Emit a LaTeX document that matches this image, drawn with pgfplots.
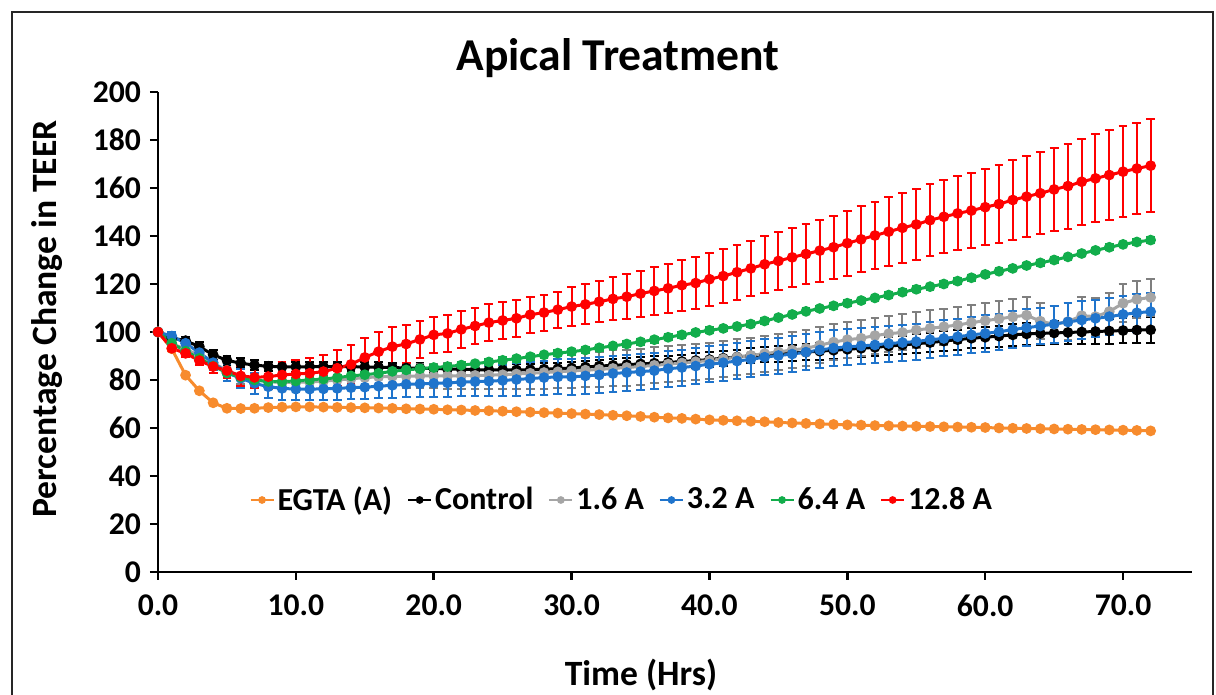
\documentclass[border=0pt]{standalone}
\usepackage{fontspec}
\setmainfont{Carlito}
\usepackage{pgfplots}
\pgfplotsset{compat=1.18}

\definecolor{egta}{HTML}{F78B2D}
\definecolor{gr}{HTML}{A5A5A5}
\definecolor{grerr}{HTML}{7F7F7F}
\definecolor{bl}{HTML}{1F74CC}
\definecolor{gn}{HTML}{12AD4B}
\definecolor{rd}{HTML}{FF0000}

\pgfplotsset{
  ser/.style={color=#1, line width=1.5pt, mark=*, mark size=1.9pt, mark options={solid}},
  errs/.style={error bars/y dir=both,
    error bars/error bar style={line width=1pt, color=#1},
    error bars/error mark options={rotate=90, mark size=2.2pt, line width=1pt, color=#1}},
}

\begin{document}
\begin{tikzpicture}
\useasboundingbox (-79pt,-61.5pt) rectangle (529pt,286pt);
% chart area frame
\draw[line width=1pt, black!85] (-73pt,-80pt) -- (-73pt,280pt) -- (527.5pt,280pt) -- (527.5pt,-80pt);

\begin{axis}[
    scale only axis,
    width=517pt, height=240pt,
    xmin=0, xmax=75, ymin=0, ymax=200,
    xtick={0,10,...,70}, ytick={0,20,...,200},
    axis lines*=left,
    axis line style={line width=1.25pt},
    tick style={line width=1.25pt, black},
    tick align=outside,
    major tick length=4pt,
    tick label style={font=\bfseries\fontsize{15.8}{18}\selectfont},
    /pgf/number format/assume math mode=true,
    xticklabel style={/pgf/number format/.cd, fixed, fixed zerofill, precision=1, /tikz/.cd, yshift=-4pt},
    yticklabel style={xshift=-1pt},
    clip=false,
    legend style={at={(0.449,0.15)}, anchor=center, draw=none, fill=none,
        legend columns=6, font=\bfseries\fontsize{16}{19}\selectfont,
        nodes={inner xsep=1.5pt},
        /tikz/every even column/.append style={column sep=6pt}},
    legend image code/.code={\draw[mark repeat=2, mark phase=2, #1, line width=1pt, mark size=1.4pt]
        plot coordinates {(0pt,0pt) (5.75pt,0pt) (11.5pt,0pt)};},
]

% EGTA (A)
\addplot[ser=egta, errs=egta, error bars/y fixed=0.5] table[row sep=\\] {
x y\\
0 100\\ 1 93\\ 2 82\\ 3 75.5\\ 4 70.5\\ 5 68.2\\ 6 68.1\\ 7 68.2\\ 8 68.5\\ 9 68.7\\
10 68.8\\ 11 68.8\\ 12 68.7\\ 13 68.6\\ 14 68.5\\ 15 68.4\\ 16 68.3\\ 17 68.2\\ 18 68.0\\ 19 67.9\\
20 67.8\\ 21 67.6\\ 22 67.5\\ 23 67.3\\ 24 67.2\\ 25 67.0\\ 26 66.8\\ 27 66.6\\ 28 66.4\\ 29 66.2\\
30 66.0\\ 31 65.8\\ 32 65.6\\ 33 65.3\\ 34 65.1\\ 35 64.8\\ 36 64.5\\ 37 64.2\\ 38 64.0\\ 39 63.7\\
40 63.4\\ 41 63.2\\ 42 63.0\\ 43 62.8\\ 44 62.6\\ 45 62.3\\ 46 62.1\\ 47 61.9\\ 48 61.7\\ 49 61.5\\
50 61.3\\ 51 61.2\\ 52 61.0\\ 53 60.9\\ 54 60.8\\ 55 60.7\\ 56 60.6\\ 57 60.5\\ 58 60.4\\ 59 60.3\\
60 60.2\\ 61 60.0\\ 62 59.9\\ 63 59.8\\ 64 59.7\\ 65 59.6\\ 66 59.5\\ 67 59.4\\ 68 59.3\\ 69 59.2\\
70 59.1\\ 71 59.0\\ 72 58.8\\
};
\addlegendentry{EGTA (A)}

% Control
\addplot[ser=black, errs=black, error bars/y explicit] table[row sep=\\, x=x, y=y, y error=e] {
x y e\\
0 100 0\\ 1 97.5 1.5\\ 2 96.4 1.5\\ 3 93.9 1.8\\ 4 90.5 2\\ 5 88.2 2\\ 6 87.0 2\\ 7 86.2 2\\ 8 85.7 2\\ 9 85.5 2\\
10 85.5 2\\ 11 85.5 2\\ 12 85.6 2\\ 13 85.6 2\\ 14 85.6 2\\ 15 85.4 2\\ 16 85.3 2\\ 17 85.2 2\\ 18 85.0 2\\ 19 84.9 2\\
20 84.8 2\\ 21 84.6 2.1\\ 22 84.5 2.2\\ 23 84.3 2.2\\ 24 84.2 2.3\\ 25 84.2 2.3\\ 26 84.2 2.4\\ 27 84.3 2.4\\ 28 84.5 2.5\\ 29 84.7 2.5\\
30 85.0 2.5\\ 31 85.4 2.6\\ 32 85.8 2.6\\ 33 86.1 2.7\\ 34 86.4 2.7\\ 35 86.7 2.8\\ 36 87.0 2.8\\ 37 87.3 2.9\\ 38 87.7 2.9\\ 39 88.1 3.0\\
40 88.5 3.0\\ 41 89.1 3.1\\ 42 89.6 3.1\\ 43 90.1 3.2\\ 44 90.5 3.2\\ 45 90.8 3.3\\ 46 91.2 3.4\\ 47 91.6 3.4\\ 48 92.0 3.5\\ 49 92.4 3.5\\
50 92.8 3.6\\ 51 93.2 3.7\\ 52 93.6 3.8\\ 53 94.1 3.8\\ 54 94.6 3.9\\ 55 95.1 4.0\\ 56 95.6 4.0\\ 57 96.2 4.1\\ 58 96.8 4.2\\ 59 97.4 4.2\\
60 97.8 4.3\\ 61 98.3 4.4\\ 62 98.8 4.5\\ 63 99.2 4.6\\ 64 99.4 4.7\\ 65 99.6 4.8\\ 66 99.8 4.9\\ 67 100.0 5.0\\ 68 100.2 5.1\\ 69 100.4 5.2\\
70 100.6 5.3\\ 71 100.8 5.3\\ 72 100.9 5.4\\
};
\addlegendentry{Control}

% 1.6 A
\addplot[ser=gr, errs=grerr, error bars/y explicit] table[row sep=\\, x=x, y=y, y error=e] {
x y e\\
0 100 0\\ 1 95 2\\ 2 93 2\\ 3 90 2\\ 4 87 2.5\\ 5 84 3\\ 6 81.5 3\\ 7 80 3\\ 8 79.3 3\\ 9 79 3\\
10 79 3\\ 11 79.2 3.5\\ 12 79.5 3.7\\ 13 80 3.9\\ 14 80.5 4.1\\ 15 81 4.3\\ 16 81.3 4.5\\ 17 81.5 4.6\\ 18 81.6 4.8\\ 19 81.7 4.9\\
20 81.7 5\\ 21 81.7 5.3\\ 22 81.8 5.5\\ 23 81.9 5.7\\ 24 82.0 5.9\\ 25 82.2 6.1\\ 26 82.5 6.3\\ 27 82.8 6.5\\ 28 83.1 6.7\\ 29 83.4 6.9\\
30 83.8 7\\ 31 84.1 7.2\\ 32 84.4 7.4\\ 33 84.8 7.5\\ 34 85.2 7.5\\ 35 85.6 7.5\\ 36 86.1 7.5\\ 37 86.6 7.5\\ 38 87.1 7.5\\ 39 87.6 7.5\\
40 88.1 7.5\\ 41 88.8 7.5\\ 42 89.5 7.5\\ 43 90.2 7.5\\ 44 91.0 7.5\\ 45 91.7 7.5\\ 46 92.5 7.5\\ 47 93.2 7.5\\ 48 94.5 7.5\\ 49 95.8 7.5\\
50 96.8 7.5\\ 51 97.4 7.5\\ 52 98.5 7.5\\ 53 99.3 7.5\\ 54 99.8 7.5\\ 55 100.8 7.5\\ 56 101.5 7.5\\ 57 102.2 7.5\\ 58 102.9 7.5\\ 59 103.9 7.5\\
60 104.7 7.5\\ 61 105.5 7.6\\ 62 106.3 7.6\\ 63 107.0 7.6\\ 64 104.5 7.6\\ 65 103.2 7.6\\ 66 104.3 7.7\\ 67 106.8 7.7\\ 68 106.4 7.7\\ 69 108.5 7.8\\
70 112.0 7.8\\ 71 113.6 7.8\\ 72 114.4 7.8\\
};
\addlegendentry{1.6 A}

% 3.2 A
\addplot[ser=bl, errs=bl, error bars/y explicit] table[row sep=\\, x=x, y=y, y error=e] {
x y e\\
0 100 0\\ 1 98.3 1.5\\ 2 95.3 2\\ 3 91.4 2.5\\ 4 87.2 3\\ 5 83 3.5\\ 6 80.7 4\\ 7 78.6 4.5\\ 8 77.2 4.5\\ 9 76.5 4.7\\
10 76.2 4.7\\ 11 76.2 4.7\\ 12 76.3 4.7\\ 13 76.5 4.8\\ 14 76.8 4.9\\ 15 77.0 5\\ 16 77.4 5.1\\ 17 77.8 5.2\\ 18 78.2 5.3\\ 19 78.4 5.4\\
20 78.6 5.5\\ 21 78.8 5.7\\ 22 79.1 5.9\\ 23 79.3 6.1\\ 24 79.5 6.3\\ 25 79.8 6.5\\ 26 80.2 6.7\\ 27 80.6 6.9\\ 28 81.0 7.1\\ 29 81.3 7.3\\
30 81.3 7.5\\ 31 81.7 7.5\\ 32 82.1 7.5\\ 33 82.7 7.5\\ 34 83.1 7.5\\ 35 83.5 7.5\\ 36 83.9 7.5\\ 37 84.7 7.5\\ 38 85.2 7.5\\ 39 85.8 7.5\\
40 86.6 7.5\\ 41 87.2 7.5\\ 42 87.9 7.5\\ 43 88.6 7.5\\ 44 89.5 7.5\\ 45 90.2 7.5\\ 46 90.8 7.5\\ 47 91.6 7.5\\ 48 92.5 7.5\\ 49 93.3 7.5\\
50 93.8 7.5\\ 51 94.2 7.5\\ 52 94.6 7.5\\ 53 95.2 7.5\\ 54 95.6 7.5\\ 55 96.0 7.5\\ 56 96.8 7.5\\ 57 97.3 7.5\\ 58 98.0 7.6\\ 59 98.8 7.6\\
60 99.4 7.6\\ 61 100.1 7.6\\ 62 101.0 7.7\\ 63 101.8 7.7\\ 64 102.5 7.7\\ 65 103.3 7.7\\ 66 104.2 7.8\\ 67 105.0 7.8\\ 68 105.7 7.8\\ 69 106.4 7.8\\
70 107.3 7.9\\ 71 108.0 7.9\\ 72 108.5 7.9\\
};
\addlegendentry{3.2 A}

% 6.4 A
\addplot[ser=gn, errs=gn, error bars/y fixed=1.2] table[row sep=\\] {
x y\\
0 100\\ 1 95.3\\ 2 92\\ 3 89\\ 4 85.8\\ 5 83\\ 6 81.2\\ 7 80\\ 8 79.4\\ 9 79.3\\
10 79.6\\ 11 80\\ 12 80.4\\ 13 81\\ 14 81.7\\ 15 82.2\\ 16 82.8\\ 17 83.6\\ 18 84.2\\ 19 84.7\\
20 85.2\\ 21 85.6\\ 22 86.2\\ 23 86.8\\ 24 87.5\\ 25 88.2\\ 26 88.9\\ 27 89.7\\ 28 90.5\\ 29 91.2\\
30 91.8\\ 31 92.5\\ 32 93.4\\ 33 94.2\\ 34 95.0\\ 35 95.9\\ 36 96.8\\ 37 97.8\\ 38 98.8\\ 39 99.8\\
40 100.7\\ 41 101.5\\ 42 102.3\\ 43 103.3\\ 44 104.6\\ 45 106.0\\ 46 107.3\\ 47 108.6\\ 48 109.8\\ 49 110.9\\
50 112.0\\ 51 113.1\\ 52 114.2\\ 53 115.4\\ 54 116.6\\ 55 117.8\\ 56 118.9\\ 57 120.0\\ 58 121.2\\ 59 122.6\\
60 124.0\\ 61 125.3\\ 62 126.5\\ 63 127.7\\ 64 128.8\\ 65 130.0\\ 66 131.3\\ 67 132.7\\ 68 134.0\\ 69 135.3\\
70 136.5\\ 71 137.5\\ 72 138.3\\
};
\addlegendentry{6.4 A}

% 12.8 A
\addplot[ser=rd, errs=rd, error bars/y explicit] table[row sep=\\, x=x, y=y, y error=e] {
x y e\\
0 100 0\\ 1 93.2 1\\ 2 91.1 1.5\\ 3 88.1 2\\ 4 85.6 2.5\\ 5 83.9 3\\ 6 81.7 4\\ 7 81.1 4.5\\ 8 81.4 5\\ 9 82.1 5.5\\
10 82.5 6\\ 11 82.8 6.5\\ 12 83.5 7\\ 13 84.9 7.5\\ 14 86.5 8\\ 15 89.4 8\\ 16 91.8 8\\ 17 93.9 8\\ 18 95.0 8\\ 19 96.9 7.8\\
20 98.8 7.6\\ 21 99.4 7.6\\ 22 101.1 7.6\\ 23 102.5 7.6\\ 24 103.9 7.6\\ 25 104.8 7.6\\ 26 105.7 7.6\\ 27 107.2 7.5\\ 28 108.1 7.5\\ 29 109.3 7.5\\
30 110.6 8\\ 31 111.5 8.3\\ 32 112.6 8.6\\ 33 113.8 9\\ 34 114.7 9.3\\ 35 116.0 9.6\\ 36 117.1 10\\ 37 118.2 10.3\\ 38 119.5 10.6\\ 39 120.4 10.9\\
40 122.0 11.1\\ 41 123.3 11.3\\ 42 124.9 11.5\\ 43 126.5 11.6\\ 44 128.2 11.8\\ 45 129.6 12.0\\ 46 131.1 12.3\\ 47 132.5 12.6\\ 48 133.9 12.9\\ 49 135.3 13.2\\
50 137.0 13.5\\ 51 138.6 13.8\\ 52 140.2 14.0\\ 53 141.8 14.3\\ 54 143.4 14.6\\ 55 144.8 14.8\\ 56 146.6 15.0\\ 57 148.0 15.2\\ 58 149.4 15.4\\ 59 150.6 15.6\\
60 152.0 15.9\\ 61 153.3 16.2\\ 62 155.0 16.5\\ 63 156.4 16.8\\ 64 157.8 17.1\\ 65 159.4 17.4\\ 66 160.8 17.7\\ 67 162.6 18.0\\ 68 164.0 18.3\\ 69 165.4 18.6\\
70 166.8 18.9\\ 71 168.1 19.1\\ 72 169.3 19.4\\
};
\addlegendentry{12.8 A}
\end{axis}

\node[font=\bfseries\fontsize{22.8}{27}\selectfont] at (230pt,257pt) {Apical Treatment};
\node[font=\bfseries\fontsize{17.8}{21}\selectfont] at (241.5pt,-51.5pt) {Time (Hrs)};
\node[font=\bfseries\fontsize{17.8}{21}\selectfont, rotate=90] at (-55.5pt,126.5pt) {Percentage Change in TEER};
\end{tikzpicture}
\end{document}
